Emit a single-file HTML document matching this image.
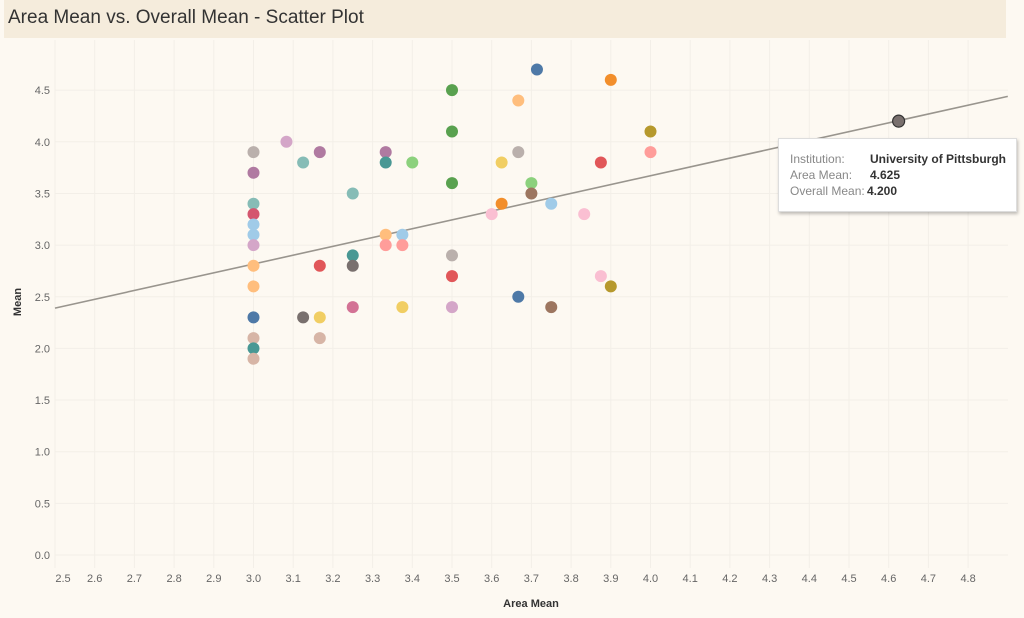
<!DOCTYPE html>
<html><head><meta charset="utf-8"><style>
body{margin:0;width:1024px;height:618px;overflow:hidden;background:#fdf9f2;font-family:"Liberation Sans",sans-serif;}
#title{position:absolute;left:4px;top:0;width:1002px;height:38px;background:#f5ecdc;}
#title span{position:absolute;left:4px;top:7px;font-size:19px;color:#333;}
#tip{position:absolute;left:778px;top:138px;width:237px;height:72px;background:#fff;border:1px solid #ddd;box-shadow:1px 2px 3px rgba(0,0,0,0.25);font-size:12px;line-height:16px;}
#tip .r{position:absolute;left:11px;color:#888;white-space:nowrap;}
#tip .v{position:absolute;left:91px;color:#333;font-weight:bold;white-space:nowrap;}
</style></head><body>
<div id="title"><span>Area Mean vs. Overall Mean - Scatter Plot</span></div>
<svg id="chart" width="1024" height="618" style="position:absolute;left:0;top:0"></svg>
<div id="tip">
<div class="r" style="top:12px">Institution:</div>
<div class="v" style="top:12px">University of Pittsburgh</div>
<div class="r" style="top:28px">Area Mean:</div>
<div class="v" style="top:28px">4.625</div>
<div class="r" style="top:44px">Overall Mean:</div>
<div class="v" style="top:44px;left:88px">4.200</div>
</div>
<script>
const xs=[3,3,3,3,3,3,3,3,3,3,3,3,3,3.083,3.125,3.125,3.167,3.167,3.167,3.167,3.25,3.25,3.25,3.25,3.333,3.333,3.333,3.333,3.375,3.375,3.375,3.4,3.5,3.5,3.5,3.5,3.5,3.5,3.6,3.625,3.625,3.667,3.667,3.667,3.7,3.7,3.714,3.75,3.75,3.833,3.875,3.875,3.9,3.9,4,4,4.625];
const ys=[3.9,3.7,3.4,3.3,3.2,3.1,3.0,2.8,2.6,2.3,2.1,2.0,1.9,4.0,3.8,2.3,3.9,2.8,2.3,2.1,3.5,2.9,2.8,2.4,3.9,3.8,3.1,3.0,3.1,3.0,2.4,3.8,4.5,4.1,3.6,2.9,2.7,2.4,3.3,3.8,3.4,4.4,3.9,2.5,3.6,3.5,4.7,3.4,2.4,3.3,3.8,2.7,4.6,2.6,4.1,3.9,4.2];
const colors=["#bab0ac","#b07aa1","#86bcb6","#d4566f","#a0cbe8","#a0cbe8","#d4a6c8","#ffbe7d","#ffbe7d","#4e79a7","#d7b5a6","#499894","#d7b5a6","#d4a6c8","#86bcb6","#79706e","#b07aa1","#e15759","#f1ce63","#d7b5a6","#86bcb6","#499894","#79706e","#d37295","#b07aa1","#499894","#ffbe7d","#ff9d9a","#a0cbe8","#ff9d9a","#f1ce63","#8cd17d","#59a14f","#59a14f","#59a14f","#bab0ac","#e15759","#d4a6c8","#fabfd2","#f1ce63","#f28e2b","#ffbe7d","#bab0ac","#4e79a7","#8cd17d","#9d7660","#4e79a7","#a0cbe8","#9d7660","#fabfd2","#e15759","#fabfd2","#f28e2b","#b6992d","#b6992d","#ff9d9a","#79706e"];
const xTicks=[2.5,2.6,2.7,2.8,2.9,3.0,3.1,3.2,3.3,3.4,3.5,3.6,3.7,3.8,3.9,4.0,4.1,4.2,4.3,4.4,4.5,4.6,4.7,4.8];
const yTicks=[0,0.5,1,1.5,2,2.5,3,3.5,4,4.5];
const trendX=[2.5,4.9];
const trendY=[2.39,4.44];
const NS="http://www.w3.org/2000/svg";
const svg=document.getElementById('chart');
const X=v=>55+(v-2.5)*397;
const Y=v=>555-v*103.3;
function mk(t,a){const e=document.createElementNS(NS,t);for(const k in a)e.setAttribute(k,a[k]);svg.appendChild(e);return e;}
xTicks.forEach((t,i)=>{
 const g=mk('line',{x1:X(t),x2:X(t),y1:40,y2:568,stroke:'#f3efe8','stroke-width':1});
 
 
 const l=mk('text',{x:X(t)+(i==0?8:0),y:582,'text-anchor':'middle','font-size':11,fill:'#666'});
 l.textContent=t.toFixed(1);
 
 
});
yTicks.forEach(t=>{
 const g=mk('line',{x1:55,x2:1008,y1:Y(t),y2:Y(t),stroke:'#f3efe8','stroke-width':1});
 
 
 const l=mk('text',{x:50,y:Y(t)+4,'text-anchor':'end','font-size':11,fill:'#666'});
 l.textContent=t.toFixed(1);
 
 
});
const tl=mk('line',{x1:X(trendX[0]),y1:Y(trendY[0]),x2:X(trendX[1]),y2:Y(trendY[1]),stroke:'#99958e','stroke-width':1.6});


xs.forEach((x,i)=>{
 const last=i==xs.length-1;
 const c=mk('circle',{cx:X(x),cy:Y(ys[i]),r:6,fill:colors[i],stroke:last?'#333':'none','stroke-width':1.2});
 
 
});
const xt=mk('text',{x:531,y:607,'text-anchor':'middle','font-size':11,fill:'#333','font-weight':'bold'});
xt.textContent='Area Mean';


const yt=mk('text',{x:21,y:302,'text-anchor':'middle','font-size':11,fill:'#333','font-weight':'bold',transform:'rotate(-90 21 302)'});
yt.textContent='Mean';


</script>
</body></html>
